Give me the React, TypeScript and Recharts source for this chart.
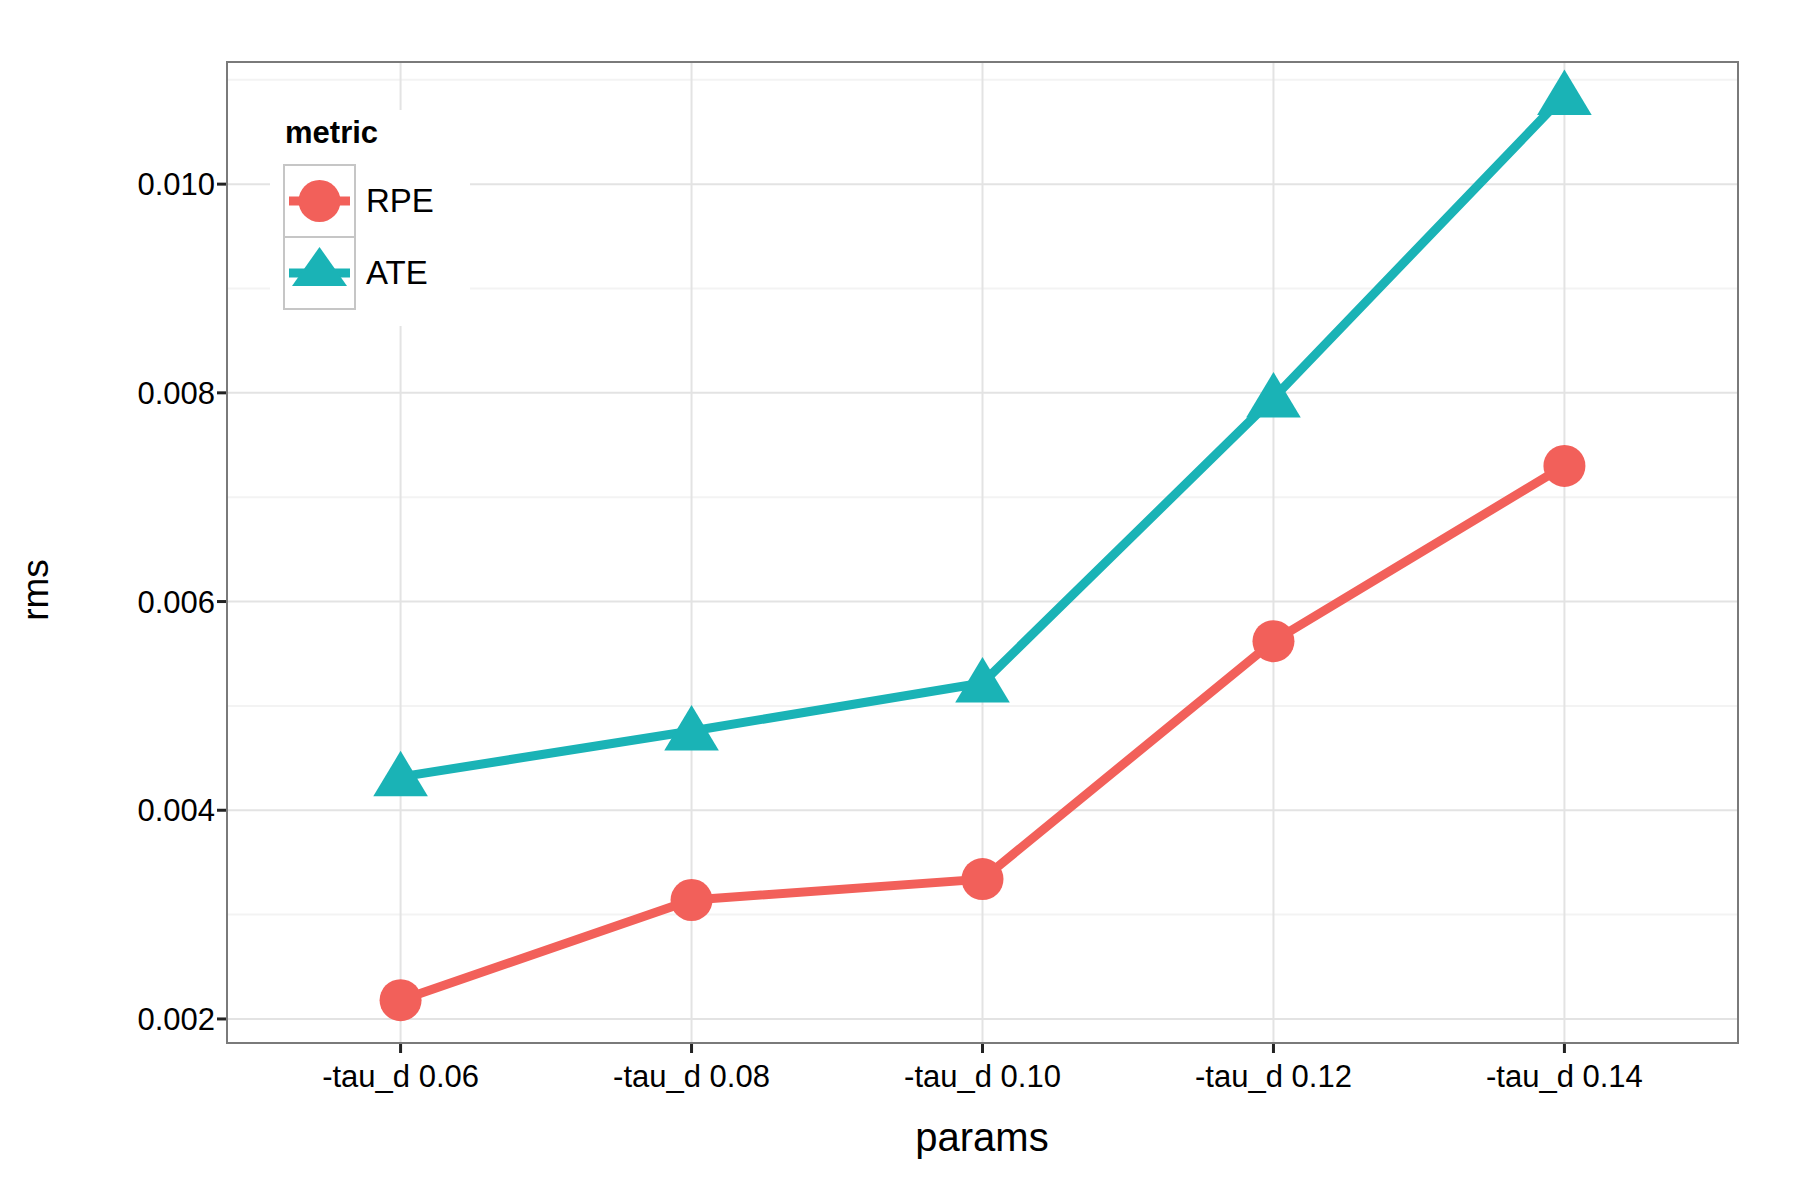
import React from "react";
import { ComposedChart, Line, XAxis, YAxis, CartesianGrid } from "recharts";

const categories = ["-tau_d 0.06", "-tau_d 0.08", "-tau_d 0.10", "-tau_d 0.12", "-tau_d 0.14"];
const rpe = [0.00218, 0.00314, 0.00334, 0.00562, 0.0073];
const ate = [0.00432, 0.00476, 0.00522, 0.00795, 0.01085];
const yTicks = [0.002, 0.004, 0.006, 0.008, 0.01];
const yMinor = [0.003, 0.005, 0.007, 0.009, 0.011];

const data = categories.map((c, i) => ({ idx: i, name: c, RPE: rpe[i], ATE: ate[i] }));
const RED = "#F8766D";
const TEAL = "#00BFC4";
const RED_D = "#f2605a";
const TEAL_D = "#1ab3b6";

const Tri = (p: any) => {
  const { cx, cy } = p;
  if (cx == null || cy == null) return null;
  const s = 26;
  return <polygon key={p.index} points={`${cx},${cy - s} ${cx - s * 1.05},${cy + s * 0.75} ${cx + s * 1.05},${cy + s * 0.75}`} fill={TEAL_D} />;
};
const Circ = (p: any) => {
  const { cx, cy } = p;
  if (cx == null || cy == null) return null;
  return <circle key={p.index} cx={cx} cy={cy} r={21} fill={RED_D} />;
};

export default function App() {
  document.body.style.margin = "0";
  const font = "'Liberation Sans', Arial, sans-serif";
  return (
    <div style={{ position: "relative", width: 1800, height: 1200, background: "#fff", fontFamily: font }}>
      <ComposedChart width={1800} height={1200} data={data} margin={{ top: 61, right: 61, bottom: 0, left: 0 }}>
        <CartesianGrid horizontalValues={yMinor} verticalValues={[]} vertical={false} stroke="#f3f3f3" strokeWidth={2} />
        <CartesianGrid horizontalValues={yTicks} verticalValues={[0, 1, 2, 3, 4]} stroke="#e3e3e3" strokeWidth={2} />
        <XAxis
          dataKey="idx"
          type="number"
          domain={[-0.6, 4.6]}
          ticks={[0, 1, 2, 3, 4]}
          tickFormatter={(v: number) => categories[v]}
          height={156}
          axisLine={false}
          tickLine={{ stroke: "#222", strokeWidth: 3 }}
          tickSize={9}
          tick={{ fill: "#000", fontSize: 31, fontFamily: font, dy: 10 }}
        />
        <YAxis
          type="number"
          domain={[0.00176, 0.01118]}
          ticks={yTicks}
          tickFormatter={(v: number) => v.toFixed(3)}
          width={226}
          axisLine={false}
          tickLine={{ stroke: "#222", strokeWidth: 3 }}
          tickSize={9}
          tick={{ fill: "#000", fontSize: 31, fontFamily: font }}
        />
        <Line dataKey="RPE" stroke={RED_D} strokeWidth={9} dot={Circ} isAnimationActive={false} />
        <Line dataKey="ATE" stroke={TEAL_D} strokeWidth={9} dot={Tri} isAnimationActive={false} />
      </ComposedChart>
      <div style={{ position: "absolute", left: 226, top: 61, width: 1513, height: 983, border: "2px solid #7a7a7a", boxSizing: "border-box", pointerEvents: "none" }} />
      <div style={{ position: "absolute", left: 36, top: 590, transform: "translate(-50%,-50%) rotate(-90deg)", fontSize: 37, transformOrigin: "center" }}>rms</div>
      <div style={{ position: "absolute", left: 982, top: 1137, transform: "translate(-50%,-50%)", fontSize: 40 }}>params</div>
      <div style={{ position: "absolute", left: 270, top: 110, width: 200, height: 216, background: "#fff" }}>
        <div style={{ position: "absolute", left: 15, top: 5, fontSize: 31, fontWeight: "bold" }}>metric</div>
        <svg style={{ position: "absolute", left: 13, top: 54 }} width={75} height={148}>
          <rect x={1} y={1} width={71} height={72} fill="#fff" stroke="#c6c6c6" strokeWidth={2} />
          <rect x={1} y={73} width={71} height={72} fill="#fff" stroke="#c6c6c6" strokeWidth={2} />
          <line x1={6} x2={67} y1={37} y2={37} stroke={RED_D} strokeWidth={9} />
          <circle cx={36.5} cy={37} r={21} fill={RED_D} />
          <line x1={6} x2={67} y1={109} y2={109} stroke={TEAL_D} strokeWidth={9} />
          <polygon points="36.5,83 9,122 64,122" fill={TEAL_D} />
        </svg>
        <div style={{ position: "absolute", left: 96, top: 72, fontSize: 33 }}>RPE</div>
        <div style={{ position: "absolute", left: 96, top: 144, fontSize: 33 }}>ATE</div>
      </div>
    </div>
  );
}
